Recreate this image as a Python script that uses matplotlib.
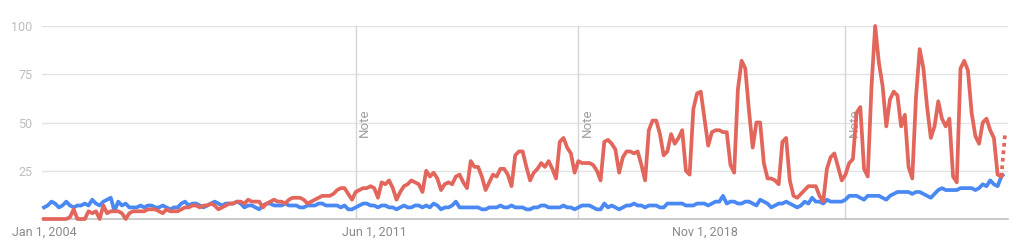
import matplotlib
matplotlib.use("Agg")
import matplotlib.pyplot as plt
import matplotlib.transforms as mtransforms

# Monthly interest, Jan 2004 .. Aug 2025 (index = months since Jan 2004)
red_values = [
    0, 0, 0, 0, 0, 0, 0, 1, 5, 0, 0, 0,
    4, 3, 4, 0, 7, 3, 4, 4, 4, 3, 0, 3,
    4, 4, 4, 4, 5, 5, 5, 4, 3, 5, 4, 4,
    4, 5, 6, 6, 7, 7, 6, 7, 7, 8, 7, 5,
    6, 7, 8, 8, 9, 9, 8, 10, 9, 9, 9, 6,
    8, 9, 10, 9, 9, 8, 10, 11, 11, 11, 10, 8,
    9, 10, 11, 12, 12, 12, 13, 15, 16, 16, 13, 10,
    14, 15, 16, 16, 17, 16, 11, 19, 18, 20, 16, 10,
    14, 17, 18, 20, 19, 18, 14, 25, 22, 24, 21, 15,
    18, 19, 18, 22, 23, 19, 16, 30, 27, 27, 22, 15,
    19, 23, 22, 26, 26, 23, 17, 33, 35, 35, 27, 20,
    24, 26, 29, 27, 30, 26, 21, 40, 42, 37, 34, 24,
    30, 29, 29, 29, 28, 25, 20, 40, 41, 39, 36, 24,
    32, 35, 35, 34, 35, 28, 20, 46, 51, 51, 44, 33,
    35, 44, 39, 42, 46, 25, 23, 57, 65, 66, 52, 38,
    45, 46, 46, 45, 45, 28, 24, 67, 82, 78, 56, 37,
    50, 50, 29, 21, 21, 20, 18, 40, 42, 20, 12, 11,
    13, 15, 17, 17, 17, 12, 9, 26, 32, 34, 27, 20,
    23, 29, 31, 55, 58, 26, 22, 68, 100, 81, 69, 48,
    62, 66, 64, 48, 54, 27, 21, 63, 88, 78, 58, 42,
    48, 61, 52, 48, 52, 22, 19, 78, 82, 77, 55, 43,
    39, 50, 52, 46, 42, 23, 22, 44,
]
blue_values = [
    6, 7, 9, 8, 6, 7, 9, 7, 6, 7, 7, 8,
    7, 10, 8, 7, 9, 10, 11, 4, 9, 7, 8, 6,
    6, 6, 7, 6, 7, 7, 6, 6, 7, 6, 5, 6,
    6, 8, 9, 7, 8, 8, 7, 6, 7, 8, 9, 8,
    7, 8, 8, 8, 9, 8, 6, 7, 7, 6, 5, 7,
    8, 8, 7, 7, 7, 8, 7, 7, 7, 6, 6, 7,
    7, 7, 8, 8, 7, 7, 7, 7, 6, 7, 5, 5,
    6, 7, 8, 8, 7, 7, 6, 7, 7, 6, 6, 5,
    6, 7, 6, 6, 7, 7, 6, 7, 6, 8, 7, 5,
    6, 6, 7, 9, 6, 6, 6, 6, 6, 6, 5, 5,
    6, 6, 6, 7, 6, 6, 7, 6, 6, 6, 5, 5,
    6, 6, 7, 7, 6, 6, 6, 6, 7, 6, 6, 5,
    6, 7, 7, 7, 6, 5, 5, 8, 6, 7, 6, 5,
    6, 7, 7, 8, 7, 7, 6, 7, 7, 7, 6, 6,
    8, 8, 8, 8, 8, 7, 7, 7, 8, 8, 8, 7,
    8, 9, 9, 12, 8, 9, 9, 8, 8, 9, 9, 8,
    7, 10, 9, 8, 6, 7, 8, 8, 9, 8, 7, 6,
    7, 9, 8, 11, 9, 9, 8, 10, 9, 9, 9, 9,
    10, 12, 12, 12, 11, 10, 12, 12, 12, 12, 11, 10,
    12, 13, 14, 14, 14, 14, 13, 14, 14, 13, 12, 11,
    13, 15, 16, 15, 15, 15, 15, 16, 16, 16, 16, 15,
    16, 18, 17, 20, 18, 17, 22, 24,
]
tick_months = [0, 89, 178]
tick_labels = ["Jan 1, 2004", "Jun 1, 2011", "Nov 1, 2018"]
note_months = [84, 144, 216]
y_ticks = [25, 50, 75, 100]

RED = "#e2665c"
BLUE = "#4a89f3"
LW = 2.7

plt.rcParams['font.family'] = ['Roboto', 'DejaVu Sans']
fig = plt.figure(figsize=(10.24, 2.48), dpi=100)
ax = fig.add_axes([42 / 1024, 1 - 219 / 248, 966 / 1024, 193 / 248])

n = len(red_values)
months = list(range(n))

ax.set_xlim(-0.54, 259.8)
ax.set_ylim(0, 100)

for v in y_ticks:
    ax.axhline(v, color="#e3e3e3", lw=1.0, zorder=0)
ax.axhline(0, color="#c6c6c6", lw=1.3, zorder=1, clip_on=False)

for nm in note_months:
    ax.axvline(nm, color="#d5d5d5", lw=1.0, zorder=0.5)
    tr = mtransforms.offset_copy(ax.transData, fig=fig, x=9, y=0, units='dots')
    ax.text(nm, 50, "Note", rotation=90, transform=tr, ha="center", va="center",
            fontsize=9.5, color="#9e9e9e", zorder=0.6)

# solid parts then dotted last segment
ax.plot(months[:-1], blue_values[:-1], color=BLUE, lw=LW, zorder=3,
        solid_joinstyle="round", clip_on=False)
ax.plot(months[-2:], blue_values[-2:], color=BLUE, lw=LW, zorder=3,
        linestyle=(0, (1, 1)), clip_on=False)
ax.plot(months[:-1], red_values[:-1], color=RED, lw=LW, zorder=4,
        solid_joinstyle="round", clip_on=False)
ax.plot(months[-2:], red_values[-2:], color=RED, lw=LW, zorder=4,
        linestyle=(0, (1, 1)), clip_on=False)

ax.set_yticks(y_ticks)
ax.set_yticklabels([str(v) for v in y_ticks])
ax.set_xticks(tick_months)
ax.set_xticklabels(tick_labels)
ax.tick_params(axis="both", length=0, labelsize=9)
ax.tick_params(axis="y", pad=7, colors="#bdbdbd")
ax.tick_params(axis="x", pad=5, colors="#8a8a8a")
for s in ax.spines.values():
    s.set_visible(False)

fig.savefig("out.png", dpi=100)
